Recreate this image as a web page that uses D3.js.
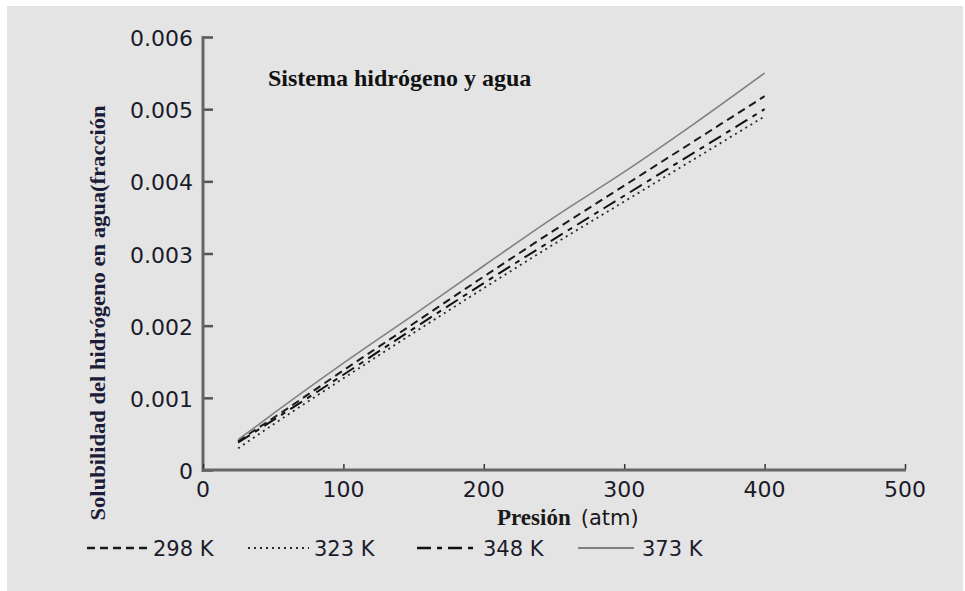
<!DOCTYPE html>
<html>
<head>
<meta charset="utf-8">
<script src="https://cdn.jsdelivr.net/npm/d3@7"></script>
<style>
  body { margin: 0; background: #fff; }
  svg { display: block; }
</style>
</head>
<body>
<script>
// pressure points (atm)
var pressure = [25, 50, 100, 150, 200, 250, 300, 350, 400];
// solubility (mole fraction) per temperature
var sol298 = [0.00040, 0.00072, 0.00138, 0.00203, 0.00268, 0.00332, 0.00394, 0.00456, 0.00518];
var sol323 = [0.00030, 0.00063, 0.00127, 0.00190, 0.00252, 0.00313, 0.00372, 0.00431, 0.00490];
var sol348 = [0.00038, 0.00069, 0.00132, 0.00196, 0.00259, 0.00320, 0.00380, 0.00440, 0.00500];
var sol373 = [0.00042, 0.00078, 0.00148, 0.00215, 0.00283, 0.00350, 0.00413, 0.00480, 0.00550];
var seriesNames = ["298 K", "323 K", "348 K", "373 K"];
var xTicks = [0, 100, 200, 300, 400, 500];
var yTicks = [0, 0.001, 0.002, 0.003, 0.004, 0.005, 0.006];

var width = 965, height = 591;
var sans = "DejaVu Sans, Verdana, sans-serif";
var serif = "Liberation Serif, Times New Roman, serif";

var styles = {
    "298 K": { dash: "8,5", color: "#1a1a1a", w: 2 },
    "323 K": { dash: "2,4", color: "#2a2a2a", w: 1.8 },
    "348 K": { dash: "14,6,5,6", color: "#111", w: 2 },
    "373 K": { dash: null, color: "#808080", w: 1.6 }
};

var series = [
    { name: "298 K", values: sol298 },
    { name: "323 K", values: sol323 },
    { name: "348 K", values: sol348 },
    { name: "373 K", values: sol373 }
];

var svg = d3.select("body").append("svg")
    .attr("width", width)
    .attr("height", height);

// gray panel
svg.append("rect")
    .attr("x", 7).attr("y", 6)
    .attr("width", 956).attr("height", height - 6)
    .attr("fill", "#e4e4e4");

var x = d3.scaleLinear().domain([0, 500]).range([203, 905]);
var y = d3.scaleLinear().domain([0, 0.006]).range([470, 37]);

// y axis
var yAxis = svg.append("g")
    .attr("transform", "translate(203,0)")
    .call(d3.axisRight(y).tickValues(yTicks).tickSize(10).tickFormat(""));
yAxis.select(".domain").remove();
yAxis.selectAll("line").attr("stroke", "#555").attr("stroke-width", 2.5);

svg.append("line")
    .attr("x1", 203).attr("x2", 203)
    .attr("y1", y(0.006) - 1).attr("y2", y(0) + 2)
    .attr("stroke", "#666").attr("stroke-width", 3);

svg.selectAll(".ylab")
    .data(yTicks)
    .enter().append("text")
    .attr("class", "ylab")
    .attr("x", 193)
    .attr("y", d => y(d) + 9)
    .attr("text-anchor", "end")
    .attr("font-family", sans)
    .attr("font-size", 22)
    .attr("fill", "#1a1a2a")
    .text(d => d === 0 ? "0" : d3.format(".3f")(d));

// x axis
var xAxis = svg.append("g")
    .attr("transform", "translate(0,470)")
    .call(d3.axisTop(x).tickValues(xTicks).tickSize(6).tickFormat(""));
xAxis.select(".domain").remove();
xAxis.selectAll("line").attr("stroke", "#333").attr("stroke-width", 1.5);

svg.append("line")
    .attr("x1", 202).attr("x2", x(500) + 1)
    .attr("y1", 470).attr("y2", 470)
    .attr("stroke", "#666").attr("stroke-width", 3);

svg.selectAll(".xlab")
    .data(xTicks)
    .enter().append("text")
    .attr("class", "xlab")
    .attr("x", d => x(d))
    .attr("y", 497)
    .attr("text-anchor", "middle")
    .attr("font-family", sans)
    .attr("font-size", 22)
    .attr("fill", "#1a1a2a")
    .text(d => d);

// axis titles
var xt = svg.append("text")
    .attr("x", 497)
    .attr("y", 525)
    .attr("fill", "#1a1a1a");
xt.append("tspan")
    .attr("font-family", serif)
    .attr("font-weight", "bold")
    .attr("font-size", 23)
    .text("Presión");
xt.append("tspan")
    .attr("font-family", sans)
    .attr("font-size", 21)
    .attr("dx", 10)
    .text("(atm)");

svg.append("text")
    .attr("transform", "translate(105,313) rotate(-90)")
    .attr("text-anchor", "middle")
    .attr("font-family", serif)
    .attr("font-weight", "bold")
    .attr("font-size", 21)
    .attr("fill", "#1c1c38")
    .attr("textLength", 415)
    .attr("lengthAdjust", "spacingAndGlyphs")
    .text("Solubilidad del hidrógeno en agua(fracción");

svg.append("text")
    .attr("x", 268)
    .attr("y", 86)
    .attr("font-family", serif)
    .attr("font-weight", "bold")
    .attr("font-size", 24)
    .attr("fill", "#111")
    .text("Sistema hidrógeno y agua");

// curves
var line = d3.line()
    .x((d, i) => x(pressure[i]))
    .y(d => y(d))
    .curve(d3.curveMonotoneX);

svg.selectAll(".curve")
    .data(series)
    .enter().append("path")
    .attr("class", "curve")
    .attr("d", d => line(d.values))
    .attr("fill", "none")
    .attr("stroke", d => styles[d.name].color)
    .attr("stroke-width", d => styles[d.name].w)
    .attr("stroke-dasharray", d => styles[d.name].dash);

// legend
var legendX = [87, 248, 417, 578];
var leg = svg.selectAll(".leg")
    .data(seriesNames)
    .enter().append("g")
    .attr("class", "leg")
    .attr("transform", (d, i) => "translate(" + legendX[i] + ",548)");

leg.append("line")
    .attr("x1", 0).attr("x2", (d, i) => i === 3 ? 56 : 61)
    .attr("y1", 0).attr("y2", 0)
    .attr("stroke", d => styles[d].color)
    .attr("stroke-width", d => styles[d].w + 0.4)
    .attr("stroke-dasharray", d => styles[d].dash);

leg.append("text")
    .attr("x", (d, i) => i === 3 ? 64 : 66)
    .attr("y", 8)
    .attr("font-family", sans)
    .attr("font-size", 21)
    .attr("fill", "#1a1a2a")
    .text(d => d);
</script>
</body>
</html>
